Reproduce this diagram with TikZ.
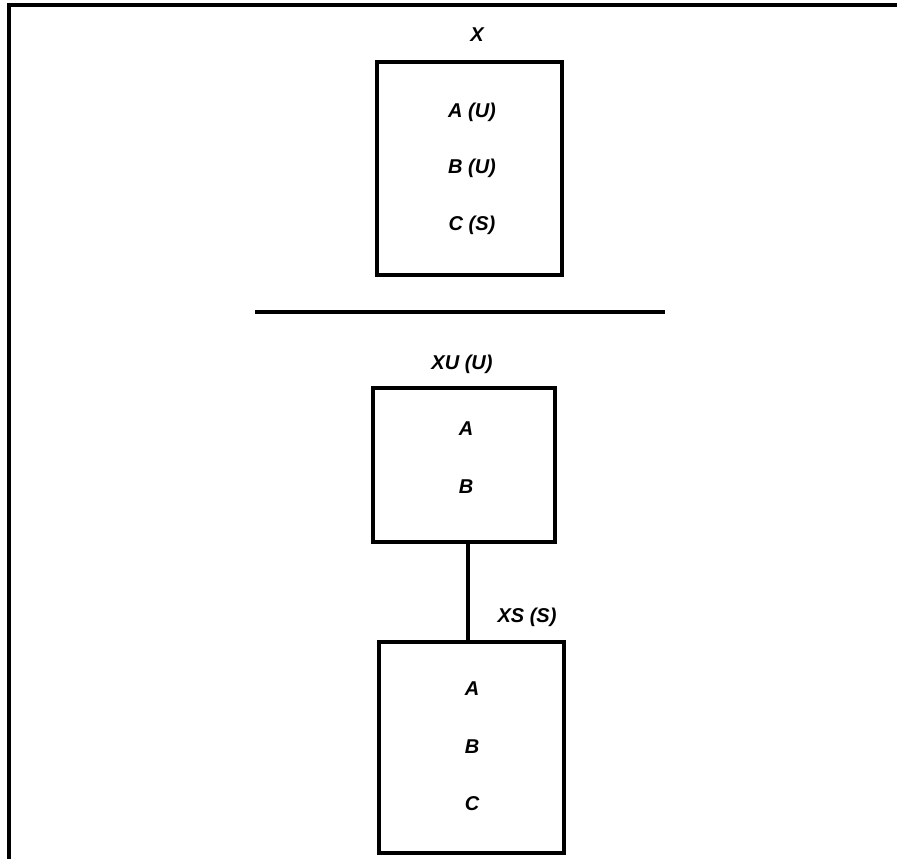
\documentclass[tikz,border=0pt]{standalone}
\usepackage{fontspec}
\setmainfont{Liberation Sans}
\begin{document}
\begin{tikzpicture}[x=1pt,y=-1pt,
  box/.style={draw=black,line width=3.2pt},
  lbl/.style={font=\fontsize{20}{22}\selectfont\itshape\bfseries,inner sep=0pt,anchor=center},
  rule/.style={line width=3.2pt,black}]
\useasboundingbox (0,0) rectangle (897,859);
% frame
\draw[line width=4.5pt] (9,859) -- (9,5) -- (897,5);
% top box X
\draw[box] (377,62) rectangle (562,275);
\node[lbl] (tx) at (477,35) {X};
\node[lbl] (xa) at (472,112) {A (U)};
\node[lbl] (xb) at (472,168) {B (U)};
\node[lbl] (xc) at (472,225) {C (S)};
% separator
\coordinate (sl) at (255,312);
\coordinate (sr) at (665,312);
\draw[rule] (sl) -- (sr);
% box XU
\node[box,minimum width=182pt,minimum height=154pt,inner sep=0pt] (xu) at (464,465) {};
\node[lbl] (txu) at (462,364) {XU (U)};
\node[lbl] (ua) at (466,429) {A};
\node[lbl] (ub) at (466,487) {B};
% box XS
\node[box,minimum width=185pt,minimum height=211pt,inner sep=0pt] (xs) at (471.5,747.5) {};
\node[lbl] (txs) at (527,617) {XS (S)};
\node[lbl] (sa) at (472,689) {A};
\node[lbl] (sb) at (472,747) {B};
\node[lbl] (sc) at (472,804) {C};
% connector
\draw[rule] (xu.south -| 468,0) -- (xs.north -| 468,0);
\end{tikzpicture}
\end{document}
